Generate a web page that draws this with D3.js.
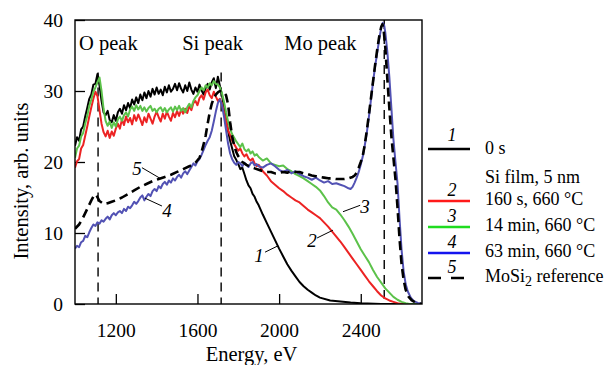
<!DOCTYPE html>
<html>
<head>
<meta charset="utf-8">
<script src="https://cdn.jsdelivr.net/npm/d3@7"></script>
<style>
  body { margin: 0; background: #fff; }
  svg text { font-family: "Liberation Serif", "DejaVu Serif", serif !important; fill: #000; }
</style>
</head>
<body>
<svg id="chart"></svg>
<script>

// ---- data (energy in eV, intensity in arb. units) ----

// 1: 0 s
const eBlack = [1000,1010,1020,1030,1040,1050,1060,1070,1080,1090,1100,1110,1120,1130,1140,1150,1160,1170,1180,1190,
  1200,1210,1220,1230,1240,1250,1260,1270,1280,1290,1300,1310,1320,1330,1340,1350,1360,1370,1380,1390,
  1400,1410,1420,1430,1440,1450,1460,1470,1480,1490,1500,1510,1520,1530,1540,1550,1560,1570,1580,1590,
  1600,1610,1620,1630,1640,1650,1660,1670,1680,1690,1700,1710,1720,1730,1740,1750,1760,1770,1780,1790,
  1800,1810,1820,1830,1840,1850,1860,1870,1880,1890,1900,1920,1940,1960,1980,2000,2020,2040,2060,2080,
  2100,2120,2140,2160,2180,2200,2250,2300,2350,2400,2500,2700];
const iBlack = [22.3,23.5,23.0,24.6,25.0,26.4,27.6,28.9,29.5,30.9,31.0,32.4,30.8,28.6,27.0,26.6,27.2,25.9,25.6,26.6,
  25.8,27.0,27.5,26.8,28.0,27.3,28.3,27.6,28.8,28.1,29.1,28.3,29.5,28.7,29.8,29.0,30.0,29.2,30.3,29.5,
  30.5,29.6,30.2,29.4,30.6,29.8,30.8,29.9,30.3,31.0,30.1,31.1,30.3,29.8,30.8,30.0,31.2,30.2,29.6,30.5,
  29.9,30.9,30.1,29.5,30.4,31.0,30.2,31.2,31.8,30.4,32.0,30.7,29.4,27.8,26.0,24.4,23.0,21.9,20.8,20.3,
  19.7,19.0,19.2,18.3,17.4,16.7,16.3,15.5,15.1,14.4,13.9,12.6,11.4,10.2,9.0,7.8,6.7,5.6,4.7,3.9,
  3.1,2.5,2.0,1.6,1.2,0.9,0.5,0.35,0.2,0.1,0,0];

// 2: 160 s, 660 °C
const eRed = [1000,1010,1020,1030,1040,1050,1060,1070,1080,1090,1100,1110,1120,1130,1140,1150,1160,1170,1180,1190,
  1200,1210,1220,1230,1240,1250,1260,1270,1280,1290,1300,1310,1320,1330,1340,1350,1360,1370,1380,1390,
  1400,1410,1420,1430,1440,1450,1460,1470,1480,1490,1500,1510,1520,1530,1540,1550,1560,1570,1580,1590,
  1600,1610,1620,1630,1640,1650,1660,1670,1680,1690,1700,1710,1720,1730,1740,1750,1760,1770,1780,1790,
  1800,1810,1820,1830,1840,1850,1860,1870,1880,1890,1900,1920,1940,1960,1980,2000,2020,2040,2060,2080,
  2100,2120,2140,2160,2180,2200,2220,2240,2260,2280,2300,2320,2340,2360,2380,2400,2420,2440,2460,2480,
  2500,2520,2540,2560,2580,2600,2700];
const iRed = [19.2,20.1,20.4,21.9,22.4,23.7,25.0,26.4,27.7,28.9,29.9,29.3,27.3,25.4,24.2,23.6,24.4,23.4,24.3,23.7,
  24.7,25.4,24.7,26.0,25.2,26.4,25.6,26.2,25.3,26.6,25.8,26.7,26.0,25.2,26.3,25.6,26.8,26.1,25.4,26.4,
  27.1,26.3,25.7,26.8,26.1,27.1,26.4,25.8,26.9,26.3,27.2,26.5,27.4,26.8,27.5,26.9,27.9,27.3,28.3,28.6,
  28.0,29.0,29.4,28.8,29.8,30.2,29.4,29.0,29.9,29.2,28.6,28.9,28.2,27.0,25.8,24.5,23.8,23.0,22.5,22.0,
  21.6,21.9,21.2,20.8,21.1,20.5,20.2,20.5,19.8,19.4,19.6,18.7,18.1,17.3,16.8,16.3,15.9,15.4,15.0,14.6,
  14.3,13.8,13.3,12.9,12.5,12.1,11.5,10.9,10.2,9.5,8.8,8.0,7.2,6.4,5.6,4.8,4.0,3.2,2.5,1.8,
  1.2,0.8,0.5,0.3,0.1,0,0];

// 3: 14 min, 660 °C
const eGreen = [1000,1010,1020,1030,1040,1050,1060,1070,1080,1090,1100,1110,1120,1130,1140,1150,1160,1170,1180,1190,
  1200,1210,1220,1230,1240,1250,1260,1270,1280,1290,1300,1310,1320,1330,1340,1350,1360,1370,1380,1390,
  1400,1410,1420,1430,1440,1450,1460,1470,1480,1490,1500,1510,1520,1530,1540,1550,1560,1570,1580,1590,
  1600,1610,1620,1630,1640,1650,1660,1670,1680,1690,1700,1710,1720,1730,1740,1750,1760,1770,1780,1790,
  1800,1810,1820,1830,1840,1850,1860,1870,1880,1890,1900,1920,1940,1960,1980,2000,2020,2040,2060,2080,
  2100,2120,2140,2160,2180,2200,2220,2240,2260,2280,2300,2320,2340,2360,2380,2400,2420,2440,2460,2480,
  2500,2520,2540,2560,2580,2600,2620,2640,2700];
const iGreen = [20.6,21.9,22.3,23.6,24.1,25.4,26.5,27.9,28.8,29.9,30.5,31.2,31.9,30.0,27.5,25.8,25.1,25.7,24.8,25.6,
  25.0,26.0,26.4,25.8,26.6,27.0,26.4,27.4,27.8,27.2,28.0,27.4,27.9,27.2,27.7,27.1,27.6,27.9,27.2,27.5,
  27.0,27.5,27.7,27.1,27.6,27.0,27.4,27.7,27.1,27.8,27.3,27.9,27.2,27.6,27.0,27.7,28.2,27.7,28.6,29.1,
  29.4,30.0,30.5,30.1,30.8,30.5,31.1,30.8,31.4,31.0,30.9,30.5,29.7,28.5,27.0,25.7,24.7,23.9,23.4,22.9,
  22.5,22.1,22.6,21.8,21.5,21.8,21.2,21.5,20.9,21.1,20.7,20.2,20.5,19.8,19.6,19.4,19.5,19.0,18.7,18.3,
  18.0,17.7,17.3,16.9,16.5,16.0,15.2,14.3,13.6,13.3,12.6,11.8,10.9,9.9,8.8,7.7,6.8,5.9,4.8,3.8,
  3.0,2.2,1.6,1.0,0.6,0.3,0.1,0,0];

// 4: 63 min, 660 °C
const eBlue = [1000,1010,1020,1030,1040,1050,1060,1070,1080,1090,1100,1110,1120,1130,1140,1150,1160,1170,1180,1190,
  1200,1210,1220,1230,1240,1250,1260,1270,1280,1290,1300,1310,1320,1330,1340,1350,1360,1370,1380,1390,
  1400,1410,1420,1430,1440,1450,1460,1470,1480,1490,1500,1510,1520,1530,1540,1550,1560,1570,1580,1590,
  1600,1610,1620,1630,1640,1650,1660,1670,1680,1690,1700,1710,1720,1730,1740,1750,1760,1770,1780,1790,
  1800,1810,1820,1830,1840,1850,1860,1870,1880,1890,1900,1920,1940,1960,1980,2000,2020,2040,2060,2080,
  2100,2120,2140,2160,2180,2200,2220,2240,2260,2280,2300,2320,2340,2350,2360,2370,2380,2390,2400,2410,
  2420,2430,2440,2450,2460,2470,2480,2490,2500,2508,2515,2520,2530,2540,2550,2560,2570,2580,2590,2600,
  2610,2620,2630,2645,2660,2680,2700];
const iBlue = [7.8,8.2,8.0,8.7,8.9,9.6,9.4,10.1,10.7,11.2,11.0,11.5,11.3,11.8,11.6,12.0,12.3,11.9,12.5,12.8,
  12.5,12.9,13.1,12.8,13.4,13.1,13.7,13.5,13.9,14.4,14.1,14.5,15.0,15.3,14.6,15.1,15.5,15.2,15.9,16.2,
  15.9,16.6,16.3,16.9,17.2,16.8,17.4,17.1,17.7,17.4,17.9,18.2,17.8,18.4,18.7,18.3,18.8,19.3,19.8,19.5,
  20.1,20.4,21.0,21.7,22.4,23.0,23.5,24.4,25.7,27.1,28.3,28.8,28.0,26.4,24.5,22.6,21.2,20.4,19.9,19.6,
  20.0,19.8,19.4,19.9,19.6,19.3,19.8,20.0,19.5,19.7,19.4,19.2,19.6,19.8,19.4,18.9,18.6,18.9,18.4,18.7,
  18.3,18.0,17.8,17.5,17.8,17.4,17.1,17.3,16.9,17.0,16.8,16.6,16.3,16.2,16.5,17.1,17.8,18.6,19.6,20.8,
  22.4,24.2,26.4,28.8,31.2,33.4,35.3,37.2,38.9,39.6,39.2,38.3,35.6,32.0,27.6,23.2,20.0,17.0,12.0,7.6,
  4.6,2.8,1.8,0.9,0.4,0.15,0.05];

// 5: MoSi2 reference
const eRef = [1000,1020,1040,1060,1080,1095,1105,1120,1140,1160,1180,1200,1230,1260,1290,1320,1350,1380,1410,1440,
  1470,1500,1530,1560,1590,1610,1620,1630,1640,1650,1660,1670,1680,1690,1700,1710,1720,1730,1740,1750,
  1760,1770,1780,1790,1800,1820,1840,1860,1880,1900,1920,1940,1960,1980,2000,2020,2040,2060,2080,2100,
  2120,2140,2160,2180,2200,2220,2240,2260,2280,2300,2320,2340,2360,2370,2380,2390,2400,2410,2420,2430,
  2440,2450,2460,2470,2480,2490,2500,2506,2512,2520,2530,2540,2550,2560,2570,2580,2590,2600,2610,2620,
  2635,2650,2670,2700];
const iRef = [10.6,11.2,12.2,13.4,14.6,15.4,15.3,14.5,14.1,14.2,14.4,14.6,15.0,15.5,16.0,16.5,16.9,17.3,17.6,17.9,
  18.2,18.6,19.0,19.4,19.9,20.6,21.4,22.5,23.7,25.4,27.0,28.2,29.0,29.5,29.8,30.0,30.0,29.8,29.4,28.1,
  25.6,23.6,22.3,21.4,20.8,20.0,19.6,19.3,19.1,18.9,18.7,18.6,18.6,18.4,18.5,18.6,18.5,18.7,18.6,18.6,
  18.4,18.3,18.1,18.0,17.9,17.8,17.7,17.7,17.6,17.6,17.6,17.7,17.9,18.1,18.5,19.2,20.0,20.9,22.5,24.5,
  26.7,29.0,31.3,33.6,35.7,37.6,39.0,39.4,38.6,36.2,31.8,27.6,23.6,20.6,17.6,13.6,9.2,5.6,3.4,2.0,
  1.0,0.5,0.2,0];

// peak markers (vertical dashed lines)
const peakNames = ["O peak", "Si peak", "Mo peak"];
const peakEnergy = [1113, 1716, 2515];
const peakTop = [32.6, 32.6, 40];

// curve number labels: text position and leader line, in data units
const tagText = ["1", "2", "3", "4", "5"];
const tagAt = [[1902, 5.9], [2161, 8.0], [2421, 12.8], [1451, 12.3], [1304, 18.2]];
const tagFrom = [[1931, 7.3], [2186, 9.3], [2313, 13.0], [1343, 14.9], [1328, 19.2]];
const tagTo = [[1995, 8.2], [2264, 10.4], [2397, 13.9], [1426, 13.8], [1417, 17.7]];

// axis ticks
const xTicks = [1200, 1600, 2000, 2400];
const yTicks = [0, 10, 20, 30, 40];

// ---- layout ----
var margin = {top: 20, right: 190, bottom: 61, left: 75},
    width = 612 - margin.left - margin.right,
    height = 365 - margin.top - margin.bottom;

const svg = d3.select("#chart").attr("width", 612).attr("height", 365);
const g = svg.append("g").attr("transform", `translate(${margin.left},${margin.top})`);

const x = d3.scaleLinear().domain([1000, 2700]).range([0, width]);
const y = d3.scaleLinear().domain([0, 40]).range([height, 0]);

g.append("clipPath").attr("id", "clip")
  .append("rect").attr("width", width).attr("height", height);

// axes with inward ticks
const xAxis = g.append("g").attr("transform", `translate(0,${height})`)
  .call(d3.axisBottom(x).tickValues(xTicks).tickSizeInner(-10).tickSizeOuter(0).tickPadding(19).tickFormat(d3.format("d")));
const yAxis = g.append("g")
  .call(d3.axisLeft(y).tickValues(yTicks).tickSizeInner(-10).tickSizeOuter(0).tickPadding(12));
[xAxis, yAxis].forEach(a => {
  a.attr("font-family", null);
  a.select(".domain").remove();
  a.selectAll("line").attr("stroke", "#000").attr("stroke-width", 1.3);
  a.selectAll("text").style("font-size", "19.5px").attr("fill", "#000");
});

// peak marker lines
g.append("g").selectAll("line")
  .data(peakEnergy)
  .join("line")
    .attr("x1", d => x(d)).attr("x2", d => x(d))
    .attr("y1", (d, i) => y(peakTop[i])).attr("y2", y(0))
    .attr("stroke", "#000").attr("stroke-width", 1.4)
    .attr("stroke-dasharray", "9,6");

// peak names
const peakLabelE = [1020, 1525, 2025];
g.append("g").selectAll("text")
  .data(peakNames)
  .join("text")
    .attr("x", (d, i) => x(peakLabelE[i]))
    .attr("y", 30)
    .style("font-size", "20.5px")
    .text(d => d);

// curves
const series = [
  {e: eRef, v: iRef, color: "#000", w: 2.6, dash: "9,5"},
  {e: eBlack, v: iBlack, color: "#000", w: 2, dash: null},
  {e: eRed, v: iRed, color: "#ec2323", w: 2, dash: null},
  {e: eGreen, v: iGreen, color: "#5cc24a", w: 2, dash: null},
  {e: eBlue, v: iBlue, color: "#5252b4", w: 2, dash: null}
];
const line = d3.line().x(d => x(d[0])).y(d => y(d[1]));

const order = [1, 2, 3, 4, 0];
g.append("g").attr("clip-path", "url(#clip)")
  .selectAll("path")
  .data(order.map(k => series[k]))
  .join("path")
    .attr("d", d => line(d3.zip(d.e, d.v)))
    .attr("fill", "none")
    .attr("stroke", d => d.color)
    .attr("stroke-width", d => d.w)
    .attr("stroke-linejoin", "round")
    .attr("stroke-dasharray", d => d.dash);

// curve number tags
const tags = g.append("g");
tags.selectAll("line")
  .data(tagFrom)
  .join("line")
    .attr("x1", d => x(d[0])).attr("y1", d => y(d[1]))
    .attr("x2", (d, i) => x(tagTo[i][0])).attr("y2", (d, i) => y(tagTo[i][1]))
    .attr("stroke", "#000").attr("stroke-width", 1);
tags.selectAll("text")
  .data(tagText)
  .join("text")
    .attr("x", (d, i) => x(tagAt[i][0]))
    .attr("y", (d, i) => y(tagAt[i][1]))
    .attr("text-anchor", "middle")
    .style("font-size", "19px").style("font-style", "italic")
    .text(d => d);

// frame
g.append("rect").attr("width", width).attr("height", height)
  .attr("fill", "none").attr("stroke", "#000").attr("stroke-width", 1.4);

// axis titles
svg.append("text")
  .attr("transform", `translate(28,${margin.top + height / 2 + 19}) rotate(-90)`)
  .attr("text-anchor", "middle")
  .style("font-size", "20.5px")
  .text("Intensity, arb. units");
svg.append("text")
  .attr("x", margin.left + width / 2 + 3).attr("y", 361)
  .attr("text-anchor", "middle")
  .style("font-size", "20.5px")
  .text("Energy, eV");

// legend
const legNum = ["1", "2", "3", "4", "5"];
const legColor = ["#000", "#ff1a1a", "#1fdc1f", "#1414ee", "#000"];
const legY = [149, 201, 227, 253, 278];
const legLabel = ["0 s", "160 s, 660 °C", "14 min, 660 °C", "63 min, 660 °C", "MoSi"];
const leg = svg.append("g");
leg.selectAll("line")
  .data(legY)
  .join("line")
    .attr("x1", 428).attr("x2", 470)
    .attr("y1", d => d).attr("y2", d => d)
    .attr("stroke", (d, i) => legColor[i])
    .attr("stroke-width", 2.5)
    .attr("stroke-dasharray", (d, i) => i == 4 ? "13,10" : null);
leg.selectAll("text.num")
  .data(legNum)
  .join("text").attr("class", "num")
    .attr("x", 452)
    .attr("y", (d, i) => legY[i] - (i == 0 ? 8 : 5))
    .attr("text-anchor", "middle")
    .style("font-size", "18px").style("font-style", "italic")
    .text(d => d);
const legText = leg.selectAll("text.lab")
  .data(legLabel)
  .join("text").attr("class", "lab")
    .attr("x", 485)
    .attr("y", (d, i) => legY[i] + (i == 0 ? 5 : 4))
    .style("font-size", "18px")
    .text(d => d);
legText.filter((d, i) => i == 4).each(function () {
  const t = d3.select(this);
  t.append("tspan").attr("dy", 4).style("font-size", "14px").text("2");
  t.append("tspan").attr("dy", -4).text(" reference");
});
leg.append("text")
  .attr("x", 485).attr("y", 183)
  .style("font-size", "18px")
  .text("Si film, 5 nm");

</script>
</body>
</html>
